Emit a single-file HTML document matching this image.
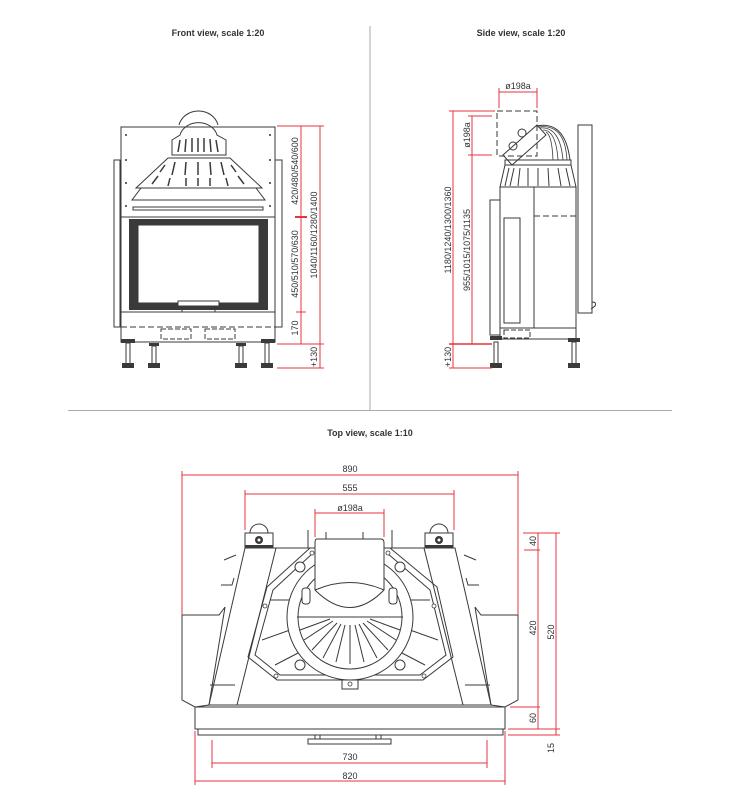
<!DOCTYPE html>
<html><head><meta charset="utf-8"><style>
html,body{margin:0;padding:0;background:#fff;}
svg{display:block;}
text{font-family:"Liberation Sans",sans-serif;}
.t{font-size:9px;font-weight:bold;fill:#333;}
.d{font-size:9px;fill:#333;}
.k{stroke:#3a3a3a;stroke-width:1;fill:none;}
.kf{stroke:#3a3a3a;stroke-width:1;fill:#fff;}
.r{stroke:#e4353f;stroke-width:1;fill:none;}
.dash{stroke:#3a3a3a;stroke-width:1;fill:none;stroke-dasharray:6 3;}
</style></head><body>
<svg width="737" height="793" viewBox="0 0 737 793" xmlns="http://www.w3.org/2000/svg">
<!-- dividers -->
<line x1="370" y1="26" x2="370" y2="410" stroke="#aaa" stroke-width="1"/>
<line x1="68" y1="410.5" x2="672" y2="410.5" stroke="#aaa" stroke-width="1"/>
<text class="t" x="218" y="36" text-anchor="middle">Front view, scale 1:20</text>
<text class="t" x="521" y="36" text-anchor="middle">Side view, scale 1:20</text>
<text class="t" x="370" y="436" text-anchor="middle">Top view, scale 1:10</text>

<!-- ===== FRONT VIEW ===== -->
<g>
<rect class="k" x="114" y="160" width="6" height="167"/>
<rect class="k" x="275" y="160" width="7" height="167"/>
<path class="k" d="M218 125 A20 18 0 0 0 179 125"/>
<rect class="kf" x="121" y="127" width="154" height="90"/>
<!-- dome -->
<path class="k" d="M180 135 A19 16 0 0 1 217 135 L226 140 L226 155 L172 155 L172 140 Z"/>
<path class="k" d="M168 158 L230 158 L262 188 L136 188 Z"/>
<g stroke="#3a3a3a" stroke-width="1.5">
<line x1="180" y1="140" x2="178" y2="152"/><line x1="186" y1="139" x2="185" y2="152"/><line x1="192" y1="138" x2="192" y2="152"/><line x1="198" y1="138" x2="198" y2="152"/><line x1="204" y1="138" x2="204" y2="152"/><line x1="210" y1="139" x2="211" y2="152"/><line x1="216" y1="140" x2="218" y2="152"/>
<line x1="165" y1="165" x2="160" y2="172"/><line x1="175" y1="162" x2="172" y2="175"/><line x1="186" y1="162" x2="185" y2="175"/><line x1="198" y1="162" x2="198" y2="175"/><line x1="210" y1="162" x2="211" y2="175"/><line x1="221" y1="162" x2="224" y2="175"/><line x1="231" y1="165" x2="236" y2="172"/>
<line x1="158" y1="176" x2="152" y2="184"/><line x1="170" y1="178" x2="168" y2="186"/><line x1="186" y1="178" x2="186" y2="186"/><line x1="198" y1="178" x2="198" y2="186"/><line x1="210" y1="178" x2="210" y2="186"/><line x1="226" y1="178" x2="228" y2="186"/><line x1="238" y1="176" x2="244" y2="184"/>
</g>
<path class="k" d="M141 188 L256 188 L265 200 L132 200 Z"/>
<rect class="k" x="133" y="207" width="130" height="3"/>
<line class="k" x1="121" y1="217" x2="275" y2="217"/>
<circle cx="126" cy="135" r="1" fill="#333"/><circle cx="270" cy="135" r="1" fill="#333"/>
<circle cx="126" cy="160" r="1" fill="#333"/><circle cx="270" cy="160" r="1" fill="#333"/>
<circle cx="126" cy="183" r="1" fill="#333"/><circle cx="270" cy="183" r="1" fill="#333"/>
<circle cx="126" cy="206" r="1" fill="#333"/><circle cx="270" cy="206" r="1" fill="#333"/>
<!-- door -->
<rect class="k" x="121" y="217" width="154" height="95"/>
<rect x="129" y="219" width="139" height="91" fill="#3a3a3a"/>
<rect x="138" y="225" width="121" height="78" fill="#fff" stroke="#3a3a3a"/>
<rect class="kf" x="178" y="301" width="41" height="5"/>
<rect class="k" x="182" y="306" width="33" height="6"/>
<!-- base -->
<rect class="k" x="121" y="312" width="154" height="30"/>
<line class="dash" x1="121" y1="327" x2="275" y2="327"/>
<rect class="k" x="161" y="329" width="30" height="10" stroke-dasharray="5 2"/>
<rect class="k" x="205" y="329" width="30" height="10" stroke-dasharray="5 2"/>
<g>
<rect x="121" y="339" width="14" height="4" fill="#3a3a3a"/><rect x="261" y="339" width="14" height="4" fill="#3a3a3a"/>
<rect x="149" y="343" width="10" height="3" fill="#3a3a3a"/><rect x="236" y="343" width="10" height="3" fill="#3a3a3a"/>
<rect class="k" x="126" y="343" width="4" height="22"/><rect class="k" x="152" y="346" width="4" height="19"/>
<rect class="k" x="239" y="346" width="4" height="19"/><rect class="k" x="265" y="343" width="4" height="22"/>
<rect x="122" y="363" width="12" height="5" fill="#3a3a3a"/><rect x="148" y="363" width="12" height="5" fill="#3a3a3a"/>
<rect x="235" y="363" width="12" height="5" fill="#3a3a3a"/><rect x="261" y="363" width="12" height="5" fill="#3a3a3a"/>
</g>
<!-- dims -->
<g class="r">
<line x1="277" y1="126" x2="324" y2="126"/>
<line x1="301" y1="126" x2="301" y2="344"/>
<line x1="320" y1="126" x2="320" y2="368"/>
<line x1="295" y1="217" x2="307" y2="217" stroke-width="2"/>
<line x1="296" y1="312" x2="306" y2="312"/>
<line x1="277" y1="344" x2="324" y2="344"/>
<line x1="277" y1="368" x2="324" y2="368"/>
<line x1="320" y1="344" x2="320" y2="368"/>
</g>
<text class="d" transform="translate(298,171) rotate(-90)" text-anchor="middle">420/480/540/600</text>
<text class="d" transform="translate(298,264) rotate(-90)" text-anchor="middle">450/510/570/630</text>
<text class="d" transform="translate(298,328) rotate(-90)" text-anchor="middle">170</text>
<text class="d" transform="translate(317,235) rotate(-90)" text-anchor="middle">1040/1160/1280/1400</text>
<text class="d" transform="translate(317,357) rotate(-90)" text-anchor="middle">+130</text>
</g>

<!-- ===== SIDE VIEW ===== -->
<g>
<rect class="k" x="578" y="125" width="14" height="188"/>
<path class="k" d="M592 302 q5 0 3 4 l-4 3"/>
<rect class="k" x="497" y="111" width="40" height="45" stroke-dasharray="6 3"/>
<path class="k" d="M503 155 L537 125 L546 135 L512 165 Z"/>
<circle class="k" cx="513" cy="146" r="4"/><circle class="k" cx="522" cy="133" r="4"/>
<path class="k" d="M536 126 Q565 120 570 160"/>
<g stroke="#3a3a3a" stroke-width="0.8" fill="none">
<path d="M540 128 Q560 126 563 160"/><path d="M543 130 Q556 130 558 160"/><path d="M546 132 Q552 135 553 160"/><path d="M538 127 Q565 123 567 160"/>
</g>
<rect class="k" x="505" y="160" width="66" height="5"/>
<path class="k" d="M505 165 L500 187 L576 187 L571 165"/>
<g stroke="#3a3a3a" stroke-width="1"><line x1="509" y1="168" x2="505" y2="186"/><line x1="514" y1="168" x2="510" y2="186"/><line x1="520" y1="168" x2="518" y2="186"/><line x1="528" y1="168" x2="528" y2="186"/><line x1="538" y1="168" x2="538" y2="186"/><line x1="548" y1="168" x2="549" y2="186"/><line x1="558" y1="168" x2="561" y2="186"/><line x1="566" y1="168" x2="570" y2="186"/></g>
<rect class="k" x="500" y="187" width="76" height="152"/>
<line class="k" x1="534" y1="187" x2="534" y2="328"/>
<line class="dash" x1="534" y1="216" x2="578" y2="216"/>
<path class="k" d="M500 200 L490 200 L490 335 L500 335"/>
<rect class="k" x="504" y="218" width="16" height="105"/>
<line class="k" x1="500" y1="328" x2="576" y2="328"/>
<rect class="k" x="504" y="330" width="26" height="8" stroke-dasharray="5 2"/>
<rect x="490" y="336" width="12" height="4" fill="#3a3a3a"/><rect x="568" y="338" width="12" height="4" fill="#3a3a3a"/>
<rect class="k" x="494" y="342" width="4" height="22"/><rect class="k" x="572" y="342" width="4" height="22"/>
<rect x="490" y="363" width="12" height="5" fill="#3a3a3a"/><rect x="568" y="363" width="12" height="5" fill="#3a3a3a"/>
<g class="r">
<line x1="499" y1="92" x2="537" y2="92"/>
<line x1="499" y1="88" x2="499" y2="108"/><line x1="537" y1="88" x2="537" y2="108"/>
<line x1="449" y1="111" x2="495" y2="111"/>
<line x1="468" y1="116" x2="492" y2="116"/>
<line x1="468" y1="155" x2="492" y2="155"/>
<line x1="453" y1="111" x2="453" y2="368"/>
<line x1="472" y1="116" x2="472" y2="344"/>
<line x1="449" y1="344" x2="492" y2="344" stroke-width="1.5"/>
<line x1="449" y1="368" x2="492" y2="368"/>
</g>
<text class="d" x="518" y="89" text-anchor="middle">ø198a</text>
<text class="d" transform="translate(470,135) rotate(-90)" text-anchor="middle">ø198a</text>
<text class="d" transform="translate(451,230) rotate(-90)" text-anchor="middle">1180/1240/1300/1360</text>
<text class="d" transform="translate(470,250) rotate(-90)" text-anchor="middle">955/1015/1075/1135</text>
<text class="d" transform="translate(451,357) rotate(-90)" text-anchor="middle">+130</text>
</g>

<!-- ===== TOP VIEW ===== -->
<g>
<!-- wings -->
<path class="k" d="M182 615 L219 615 L225 607 L209 705 L195 707 L182 700 Z"/>
<path class="k" d="M518 615 L481 615 L475 607 L491 705 L505 707 L518 700 Z"/>
<line class="k" x1="210" y1="685" x2="235" y2="685"/><line class="k" x1="490" y1="685" x2="465" y2="685"/>
<!-- tabs -->
<path class="k" d="M224 560 L236 555 M221 585 L232 585 L234 578"/>
<path class="k" d="M476 560 L464 555 M479 585 L468 585 L466 578"/>
<!-- body -->
<path class="k" d="M245 548 L455 548 L491 705 L209 705 Z"/>
<line class="k" x1="276" y1="548" x2="237" y2="705"/>
<line class="k" x1="424" y1="548" x2="463" y2="705"/>
<!-- brackets -->
<path class="k" d="M250 533 A9 9 0 0 1 268 533"/><path class="k" d="M430 533 A9 9 0 0 1 448 533"/>
<rect class="kf" x="245" y="533" width="28" height="15"/><rect class="kf" x="425" y="533" width="28" height="15"/>
<rect x="245" y="545" width="28" height="3" fill="#3a3a3a"/><rect x="425" y="545" width="28" height="3" fill="#3a3a3a"/>
<circle cx="259" cy="540" r="4" fill="#3a3a3a"/><circle cx="259" cy="540" r="1.5" fill="#fff"/>
<circle cx="439" cy="540" r="4" fill="#3a3a3a"/><circle cx="439" cy="540" r="1.5" fill="#fff"/>
<!-- octagon -->
<path class="k" d="M310 548 L267 587 L248 657 L277 680 L423 680 L453 657 L437 587 L390 548"/>
<path class="k" d="M313 553 L273 590 L255 655 L280 675 L420 675 L446 655 L430 590 L387 553"/>
<!-- struts -->
<g class="k">
<line x1="270" y1="600" x2="292" y2="600"/><line x1="430" y1="600" x2="408" y2="600"/>
<line x1="262" y1="640" x2="290" y2="630"/><line x1="438" y1="640" x2="410" y2="630"/>
<line x1="275" y1="665" x2="300" y2="652"/><line x1="425" y1="665" x2="400" y2="652"/>
</g>
<!-- rings -->
<circle class="kf" cx="350" cy="617" r="63"/>
<circle class="k" cx="350" cy="617" r="52"/>
<line class="k" x1="297" y1="617" x2="403" y2="617"/>
<!-- spokes -->
<g stroke="#3a3a3a" stroke-width="1">
<line x1="350" y1="625" x2="350" y2="664"/>
<line x1="345" y1="625" x2="336" y2="662"/><line x1="355" y1="625" x2="364" y2="662"/>
<line x1="341" y1="624" x2="323" y2="658"/><line x1="359" y1="624" x2="377" y2="658"/>
<line x1="337" y1="623" x2="312" y2="650"/><line x1="363" y1="623" x2="388" y2="650"/>
<line x1="333" y1="621" x2="304" y2="640"/><line x1="367" y1="621" x2="396" y2="640"/>
<line x1="330" y1="619" x2="300" y2="630"/><line x1="370" y1="619" x2="400" y2="630"/>
</g>
<!-- flue -->
<path class="kf" d="M317 539 L381 539 Q384 539 384 543 L384 590 Q350 625 315 590 L315 543 Q315 539 317 539 Z"/>
<path class="k" d="M315 590 Q350 575 384 590"/>
<line class="k" x1="326" y1="532" x2="326" y2="539"/><line class="k" x1="363" y1="532" x2="363" y2="539"/>
<line class="k" x1="308" y1="530" x2="308" y2="548"/><line class="k" x1="392" y1="530" x2="392" y2="548"/>
<!-- bolts -->
<g class="kf">
<rect x="302" y="588" width="8" height="16" rx="3"/><rect x="389" y="588" width="8" height="16" rx="3"/>
<circle cx="300" cy="567" r="5"/><circle cx="400" cy="567" r="5"/>
<circle cx="300" cy="665" r="5"/><circle cx="400" cy="665" r="5"/>
<rect x="342" y="680" width="16" height="9"/>
</g>
<g fill="#fff" stroke="#3a3a3a" stroke-width="0.8">
<circle cx="312" cy="553" r="2"/><circle cx="388" cy="553" r="2"/>
<circle cx="265" cy="606" r="2"/><circle cx="434" cy="606" r="2"/>
<circle cx="276" cy="676" r="2"/><circle cx="424" cy="676" r="2"/>
<circle cx="350" cy="684" r="2"/>
</g>
<!-- base -->
<rect class="kf" x="195" y="707" width="310" height="22"/>
<rect class="k" x="198" y="729" width="305" height="6"/>
<rect class="k" x="315" y="735" width="5" height="4"/><rect class="k" x="376" y="735" width="5" height="4"/>
<rect class="k" x="308" y="739" width="83" height="5"/>
<!-- dims -->
<g class="r">
<line x1="182" y1="475" x2="518" y2="475"/>
<line x1="182" y1="471" x2="182" y2="615"/><line x1="518" y1="471" x2="518" y2="615"/>
<line x1="245" y1="494" x2="454" y2="494"/>
<line x1="245" y1="490" x2="245" y2="530"/><line x1="454" y1="490" x2="454" y2="530"/>
<line x1="315" y1="513" x2="384" y2="513"/>
<line x1="315" y1="509" x2="315" y2="537"/><line x1="384" y1="509" x2="384" y2="537"/>
<line x1="523" y1="533" x2="560" y2="533"/>
<line x1="524" y1="550" x2="540" y2="550"/>
<line x1="510" y1="707" x2="540" y2="707"/>
<line x1="508" y1="729" x2="560" y2="729"/>
<line x1="508" y1="735" x2="560" y2="735"/>
<line x1="556" y1="533" x2="556" y2="735"/>
<line x1="538" y1="533" x2="538" y2="729"/>
<line x1="212" y1="740" x2="212" y2="768"/><line x1="487" y1="740" x2="487" y2="768"/>
<line x1="212" y1="763" x2="487" y2="763"/>
<line x1="195" y1="731" x2="195" y2="785"/><line x1="505" y1="731" x2="505" y2="785"/>
<line x1="195" y1="781" x2="505" y2="781"/>
</g>
<text class="d" x="350" y="472" text-anchor="middle">890</text>
<text class="d" x="350" y="491" text-anchor="middle">555</text>
<text class="d" x="350" y="511" text-anchor="middle">ø198a</text>
<text class="d" x="350" y="760" text-anchor="middle">730</text>
<text class="d" x="350" y="779" text-anchor="middle">820</text>
<text class="d" transform="translate(536,541) rotate(-90)" text-anchor="middle">40</text>
<text class="d" transform="translate(536,628) rotate(-90)" text-anchor="middle">420</text>
<text class="d" transform="translate(536,718) rotate(-90)" text-anchor="middle">60</text>
<text class="d" transform="translate(554,632) rotate(-90)" text-anchor="middle">520</text>
<text class="d" transform="translate(554,748) rotate(-90)" text-anchor="middle">15</text>
</g>
</svg>
</body></html>
